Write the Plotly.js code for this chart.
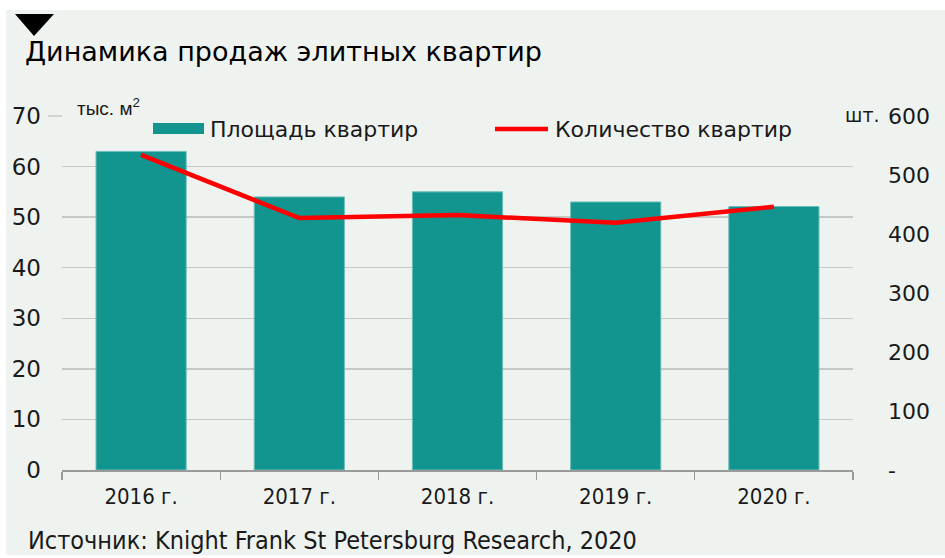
<!DOCTYPE html>
<html><head><meta charset="utf-8">
<script src="https://cdn.plot.ly/plotly-3.0.1.min.js"></script>
<style>
html,body{margin:0;padding:0;background:#ffffff;width:945px;height:558px;overflow:hidden;}
#chart{position:absolute;left:6px;top:10px;width:939px;height:545px;}
</style></head>
<body><div id="chart"></div>
<script>
// Data
const categories = ['2016 г.', '2017 г.', '2018 г.', '2019 г.', '2020 г.'];
const areaValues = [63, 54, 55, 53, 52.1];        // тыс. м²
const countValues = [534, 427, 432, 419, 446];    // шт.
const leftTicks = [0, 10, 20, 30, 40, 50, 60, 70];
const rightTickVals = [0, 100, 200, 300, 400, 500, 600];
const rightTickText = ['-', '100', '200', '300', '400', '500', '600'];
const seriesNames = ['Площадь квартир', 'Количество квартир'];

// page-pixel -> paper helpers
const DIV_L = 6, DIV_T = 10, PL = 62, PR = 853, PT = 116, PB = 470;
const px = x => (x - PL) / (PR - PL);
const py = y => (PB - y) / (PB - PT);

const BG = '#eff3f0';
const TEAL = '#12948f';
const FONT = 'DejaVu Sans, Liberation Sans, Arial, sans-serif';
const NARROW = 'Liberation Sans Narrow, DejaVu Sans Condensed, Arial Narrow, sans-serif';

const traces = [
  {type: 'bar', x: categories, y: areaValues, name: seriesNames[0], yaxis: 'y',
   marker: {color: TEAL, line: {color: '#6cbdb8', width: 1}}, width: 0.57, showlegend: false, hoverinfo: 'skip'},
  {type: 'scatter', mode: 'lines', x: categories, y: countValues, name: seriesNames[1], yaxis: 'y2',
   line: {color: '#ff0000', width: 4.5}, showlegend: false, hoverinfo: 'skip'}
];

const layout = {
  width: 939, height: 545,
  margin: {l: PL - DIV_L, r: 939 - (PR - DIV_L), t: PT - DIV_T, b: 545 - (PB - DIV_T), pad: 0},
  paper_bgcolor: BG, plot_bgcolor: BG,
  font: {family: FONT, color: '#1a1a1a'},
  title: {text: 'Динамика продаж элитных квартир', x: (25 - DIV_L) / 939, xref: 'container', xanchor: 'left',
          y: 1 - (52 - DIV_T) / 545, yref: 'container', yanchor: 'middle',
          font: {family: FONT, size: 27, color: '#000000'}},
  showlegend: false,
  xaxis: {type: 'category', tickson: 'boundaries', ticks: 'outside', ticklen: 8, tickcolor: '#9a9a9a', tickwidth: 1.2,
          showline: true, linecolor: '#9a9a9a', linewidth: 1.5, showgrid: false, zeroline: false,
          tickfont: {family: NARROW, size: 22, color: '#1a1a1a'}, ticklabelstandoff: 6, fixedrange: true},
  yaxis: {range: [0, 70], tickvals: leftTicks, showgrid: true, gridcolor: '#c6c8c6', gridwidth: 1.5,
          zeroline: false, showline: false, ticks: '', ticklabelstandoff: 20,
          tickfont: {family: FONT, size: 23, color: '#1a1a1a'}, fixedrange: true},
  yaxis2: {range: [0, 600], overlaying: 'y', side: 'right', tickvals: rightTickVals, ticktext: rightTickText,
           showgrid: false, zeroline: false, showline: false, ticks: '', ticklabelstandoff: 34,
           tickfont: {family: FONT, size: 22, color: '#1a1a1a'}, fixedrange: true},
  shapes: [
    // marker triangle
    {type: 'path', xref: 'paper', yref: 'paper',
     path: `M${px(15)},${py(14)} L${px(54)},${py(14)} L${px(34)},${py(36)} Z`,
     fillcolor: '#000000', line: {width: 0}},
    // top gridline extension to the left
    {type: 'line', xref: 'paper', yref: 'paper', x0: px(48), x1: px(62), y0: 1, y1: 1,
     line: {color: '#c6c8c6', width: 1.5}},
    // legend swatches
    {type: 'rect', xref: 'paper', yref: 'paper', x0: px(153), x1: px(204), y0: py(134), y1: py(123),
     fillcolor: TEAL, line: {width: 0}},
    {type: 'line', xref: 'paper', yref: 'paper', x0: px(495), x1: px(548), y0: py(129), y1: py(129),
     line: {color: '#ff0000', width: 4.5}}
  ],
  annotations: [
    {text: 'тыс. м<sup>2</sup>', xref: 'paper', yref: 'paper', x: px(75), y: py(107), xanchor: 'left', yanchor: 'middle',
     showarrow: false, font: {family: 'Liberation Sans, Arial, sans-serif', size: 19, color: '#1a1a1a'}},
    {text: 'шт.', xref: 'paper', yref: 'paper', x: px(843), y: py(115), xanchor: 'left', yanchor: 'middle',
     showarrow: false, bgcolor: BG, font: {family: FONT, size: 19, color: '#1a1a1a'}},
    {text: seriesNames[0], xref: 'paper', yref: 'paper', x: px(208), y: py(129), xanchor: 'left', yanchor: 'middle',
     showarrow: false, font: {family: FONT, size: 22, color: '#1a1a1a'}},
    {text: seriesNames[1], xref: 'paper', yref: 'paper', x: px(553), y: py(129), xanchor: 'left', yanchor: 'middle',
     showarrow: false, font: {family: FONT, size: 22, color: '#1a1a1a'}},
    {text: 'Источник: Knight Frank St Petersburg Research, 2020', xref: 'paper', yref: 'paper',
     x: px(26), y: py(540), xanchor: 'left', yanchor: 'middle', showarrow: false,
     font: {family: NARROW, size: 25, color: '#1a1a1a'}}
  ]
};

Plotly.newPlot('chart', traces, layout, {displayModeBar: false, staticPlot: true});
</script></body></html>
